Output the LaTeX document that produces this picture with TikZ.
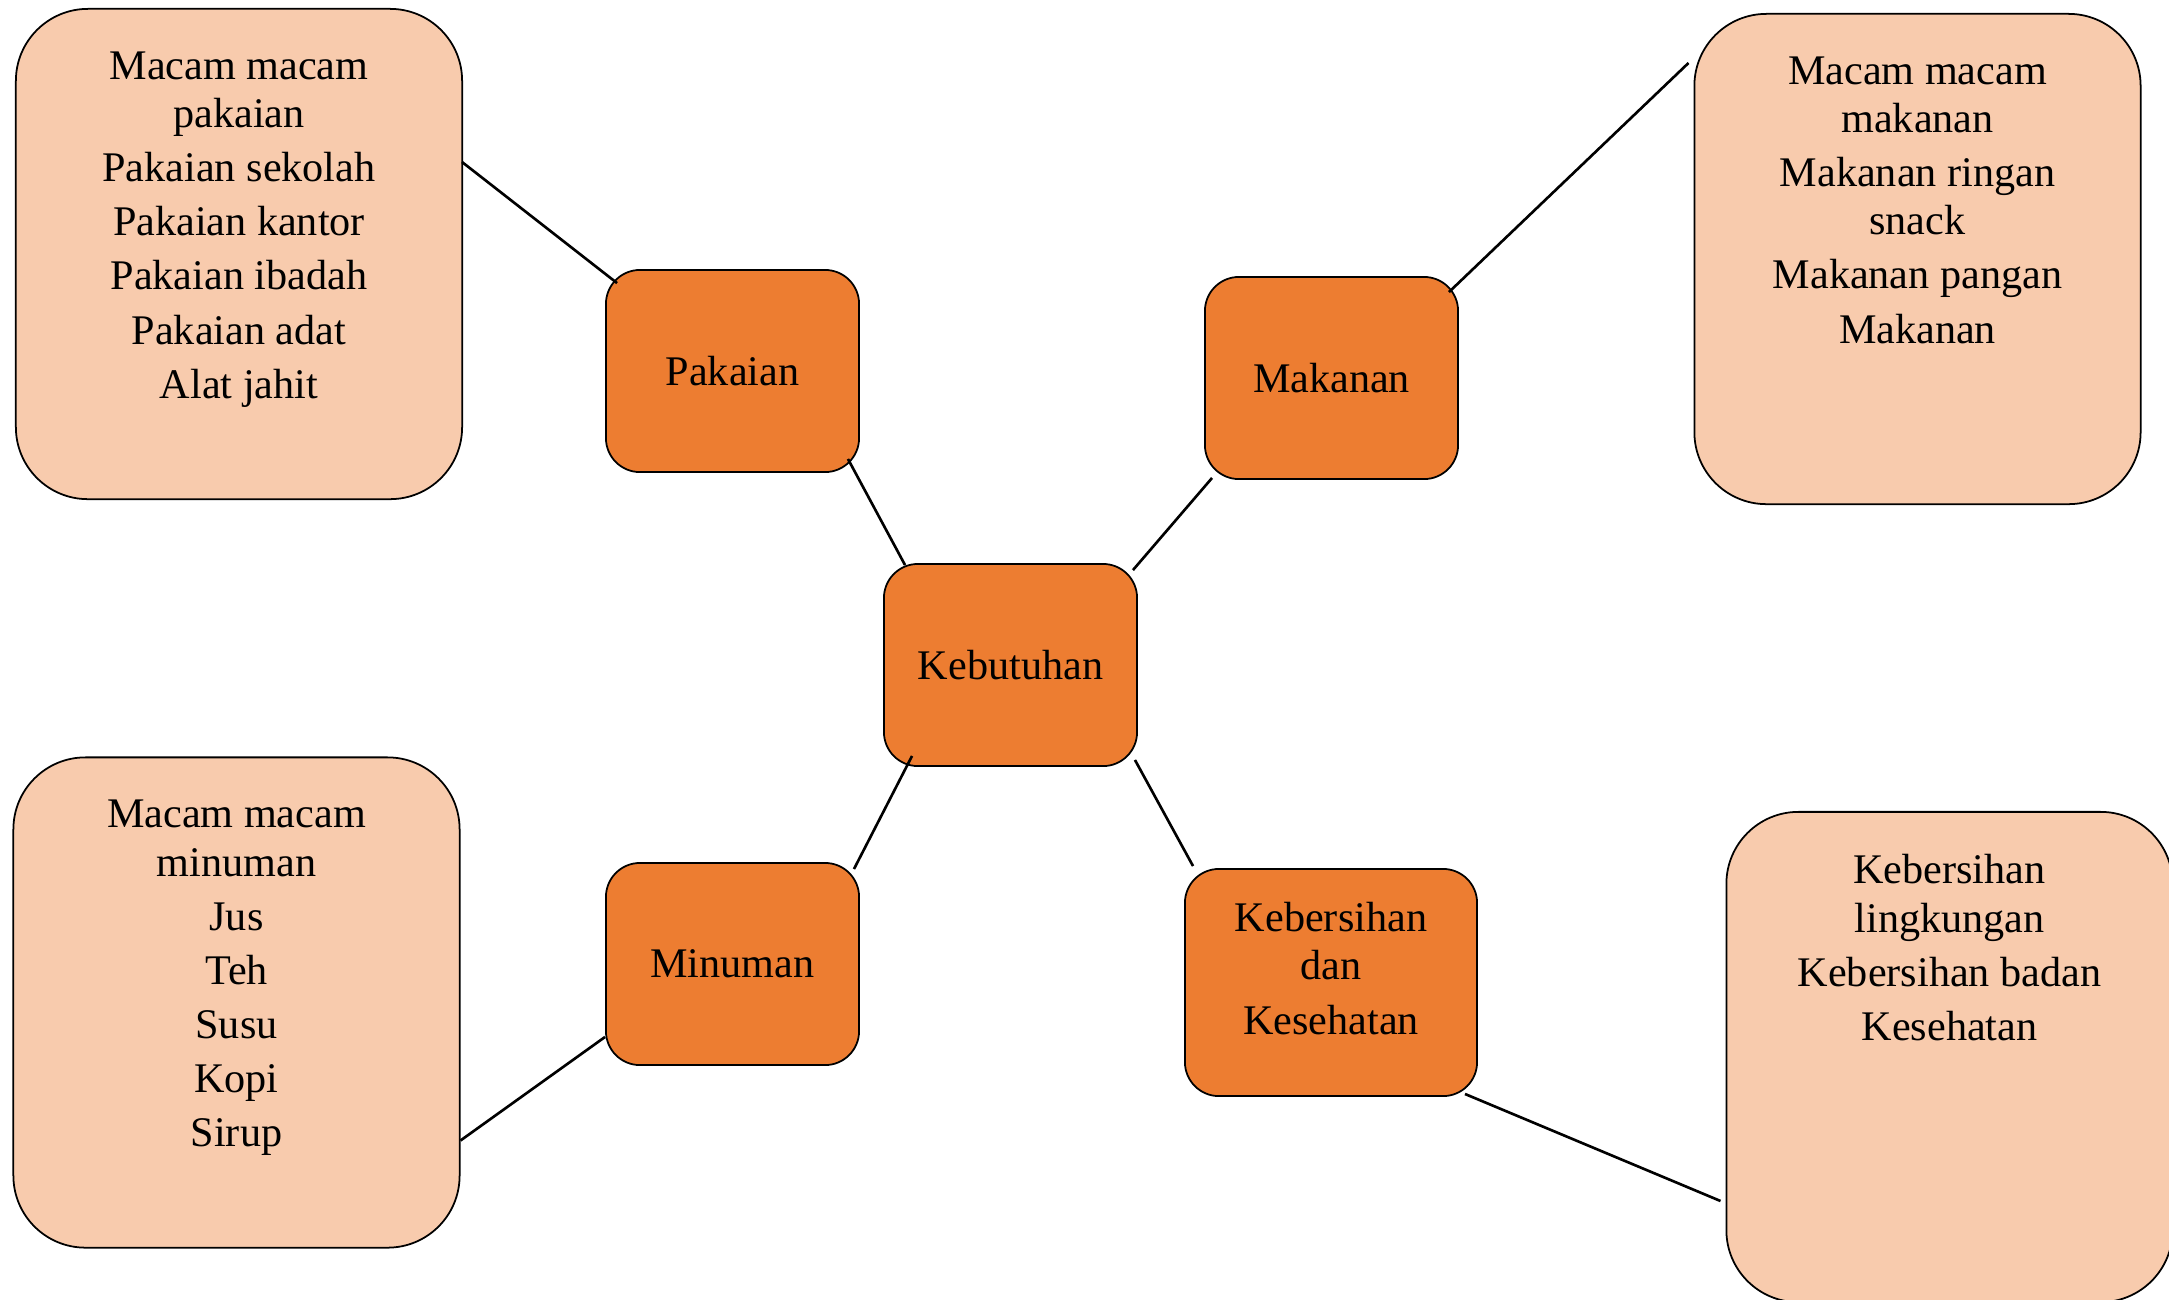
\documentclass[tikz,border=0pt]{standalone}
\usepackage{fontspec}
\setmainfont{Liberation Serif}
\usetikzlibrary{calc}
\definecolor{orangeA}{HTML}{ED7D31}
\definecolor{peach}{HTML}{F8CBAD}
\begin{document}
\begin{tikzpicture}[x=0.01cm,y=-0.01cm,
  hub/.style={draw=black, line width=0.5pt, fill=orangeA, rounded corners=0.34cm,
    minimum width=2.53cm, minimum height=2.02cm, inner sep=0pt, align=center,
    font=\fontsize{12}{13.7}\selectfont},
  leaf/.style={draw=black, line width=0.5pt, fill=peach, rounded corners=0.72cm,
    minimum width=4.46cm, minimum height=4.9cm, inner sep=0pt},
  leaftext/.style={anchor=north, align=center, inner sep=0pt,
    font=\fontsize{12}{13.7}\selectfont},
  link/.style={line width=0.75pt}]
\useasboundingbox (0,0) rectangle (2169,1299);

% leaf boxes
\node[leaf] (tl) at (239,254) {};
\node[leaftext] (tlt) at ($(tl.north)+(0,43)$) {Macam macam\\pakaian\\[1.7pt]Pakaian sekolah\\[1.7pt]Pakaian kantor\\[1.7pt]Pakaian ibadah\\[1.7pt]Pakaian adat\\[1.7pt]Alat jahit};

\node[leaf] (tr) at (1917.5,259) {};
\node[leaftext] (trt) at ($(tr.north)+(0,43)$) {Macam macam\\makanan\\[1.7pt]Makanan ringan\\snack\\[1.7pt]Makanan pangan\\[1.7pt]Makanan};

\node[leaf] (bl) at (236.5,1002.5) {};
\node[leaftext] (blt) at ($(bl.north)+(0,43)$) {Macam macam\\minuman\\[1.7pt]Jus\\[1.7pt]Teh\\[1.7pt]Susu\\[1.7pt]Kopi\\[1.7pt]Sirup};

\node[leaf] (br) at (1949.5,1057) {};
\node[leaftext] (brt) at ($(br.north)+(0,43)$) {Kebersihan\\lingkungan\\[1.7pt]Kebersihan badan\\[1.7pt]Kesehatan};

% hub boxes
\node[hub] (pak) at (732.5,371) {Pakaian};
\node[hub] (mak) at (1331.5,378) {Makanan};
\node[hub] (keb) at (1010.5,665) {Kebutuhan};
\node[hub] (min) at (732.5,964) {Minuman};
\node[hub, minimum width=2.92cm, minimum height=2.27cm] (kes) at (1331,982.5) {};
\node[leaftext, anchor=center] (kest) at ($(kes.center)+(0,-14)$) {Kebersihan\\dan\\[1.7pt]Kesehatan};

% connectors
\draw[link] ($(tl.north east)+(-1,154)$) -- ($(pak.north west)+(12,14)$);
\draw[link] ($(pak.south east)+(-12,-14)$) -- ($(keb.north west)+(22,2)$);
\draw[link] ($(mak.south west)+(8,-2)$) -- ($(keb.north east)+(-5,7)$);
\draw[link] ($(mak.north east)+(-10,16)$) -- ($(tr.north west)+(-5,50)$);
\draw[link] ($(keb.south west)+(29,-11)$) -- ($(min.north east)+(-6,7)$);
\draw[link] ($(keb.south east)+(-3,-7)$) -- ($(kes.north west)+(9,-2)$);
\draw[link] ($(min.south west)+(0,-29)$) -- ($(bl.north east)+(0,384)$);
\draw[link] ($(kes.south east)+(-13,-3)$) -- ($(br.north west)+(-5,390)$);
\end{tikzpicture}
\end{document}
